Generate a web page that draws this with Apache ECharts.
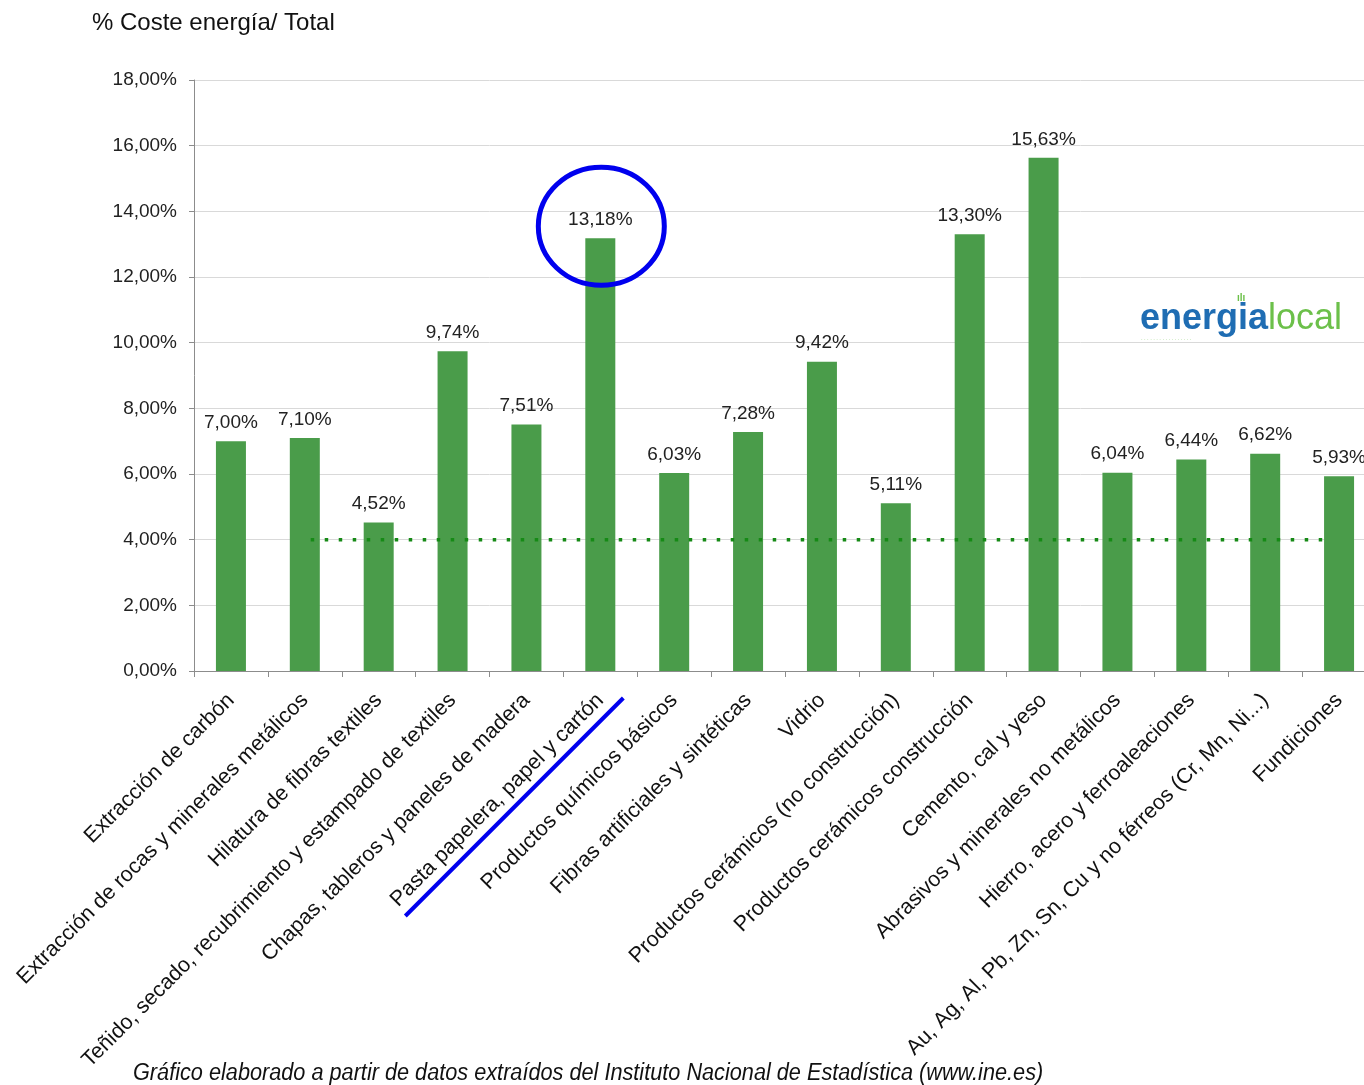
<!DOCTYPE html>
<html><head><meta charset="utf-8">
<script src="https://cdn.jsdelivr.net/npm/echarts@6/dist/echarts.min.js"></script>
<style>html,body{margin:0;padding:0;background:#fff;overflow:hidden}#c{width:1400px;height:1085px}</style>
</head><body><div id="c"></div>
<script>
const categories = ["Extracción de carbón","Extracción de rocas y minerales metálicos","Hilatura de fibras textiles","Teñido, secado, recubrimiento y estampado de textiles","Chapas, tableros y paneles de madera","Pasta papelera, papel y cartón","Productos químicos básicos","Fibras artificiales y sintéticas","Vidrio","Productos cerámicos (no construcción)","Productos cerámicos construcción","Cemento, cal y yeso","Abrasivos y minerales no metálicos","Hierro, acero y ferroaleaciones","Au, Ag, Al, Pb, Zn, Sn, Cu y no férreos (Cr, Mn, Ni...)","Fundiciones"];
const values = [7.00,7.10,4.52,9.74,7.51,13.18,6.03,7.28,9.42,5.11,13.30,15.63,6.04,6.44,6.62,5.93];
const refLevel = 4;
const refSpan = [1.58, 15.3]; // in category units
const highlightIndex = 5;
const yTicks = {min:0,max:18,interval:2};
const FONT = "Liberation Sans, Arial, sans-serif";
const fmt = v => v.toFixed(2).replace('.', ',') + '%';

const chart = echarts.init(document.getElementById('c'), null, {renderer:'canvas'});
chart.setOption({
  animation:false,
  grid:{left:194, top:80, width:1182, height:591},
  xAxis:[{
    type:'category', data:categories,
    axisLine:{lineStyle:{color:'#8c8c8c'}},
    axisTick:{show:true, length:6, lineStyle:{color:'#8c8c8c'}},
    axisLabel:{rotate:45, interval:0, fontFamily:FONT, fontSize:21.5, color:'#111', margin:26}
  },{
    type:'value', min:0, max:categories.length, show:false
  }],
  yAxis:{
    type:'value', min:yTicks.min, max:yTicks.max, interval:yTicks.interval,
    axisLine:{show:true, lineStyle:{color:'#8c8c8c'}},
    axisTick:{show:true, length:5, lineStyle:{color:'#8c8c8c'}},
    splitLine:{lineStyle:{color:'#d9d9d9', width:1}},
    axisLabel:{fontFamily:FONT, fontSize:19, color:'#222', margin:17, formatter:v=>v.toFixed(2).replace('.',',')+'%'}
  },
  series:[{
    type:'bar', data:values, barWidth:30, xAxisIndex:0,
    itemStyle:{color:'#4a9c4a'},
    label:{show:true, position:'top', distance:9, fontFamily:FONT, fontSize:19, color:'#222', formatter:p=>fmt(p.value)}
  },{
    type:'line', xAxisIndex:1, data:[[refSpan[0],refLevel],[refSpan[1],refLevel]],
    symbol:'none', lineStyle:{color:'#168a16', width:3.5, type:[3.5,10.5]}, z:5
  }]
});

// annotations positioned from data
const pTop = chart.convertToPixel({xAxisIndex:0,yAxisIndex:0},[highlightIndex, values[highlightIndex]]);
const pBase = chart.convertToPixel({xAxisIndex:0,yAxisIndex:0},[highlightIndex, 0]);
chart.setOption({graphic:[
  {type:'text', left:92, top:11, style:{text:'% Coste energía/ Total', font:'24px '+FONT, fill:'#111'}},
  {type:'text', x:133, y:1062, scaleX:0.943, style:{text:'Gráfico elaborado a partir de datos extraídos del Instituto Nacional de Estadística (www.ine.es)', font:'italic 23px '+FONT, fill:'#111'}},
  {type:'ellipse', shape:{cx:pTop[0]+1, cy:pTop[1]-12, rx:63, ry:59}, style:{fill:'none', stroke:'#0000ee', lineWidth:5}, z:100},
  {type:'line', shape:{x1:pBase[0]+23, y1:pBase[1]+27, x2:pBase[0]-195, y2:pBase[1]+245}, style:{stroke:'#0000ee', lineWidth:4}, z:100},
  {type:'text', left:1140, top:301, style:{rich:{a:{font:'bold 36px '+FONT, fill:'#1f6db3'}, b:{font:'36px '+FONT, fill:'#6cc04a'}}, text:'{a|energia}{b|local}'}, z:50},
  {type:'text', left:1141, top:337, style:{text:'· · · · · · · · · · · · · · · · ·', font:'5px '+FONT, fill:'#6cc04a'}, z:50},
  {type:'text', left:1237, top:293, style:{text:'ılı', font:'bold 10px '+FONT, fill:'#6cc04a'}, z:50}
]});
</script></body></html>
